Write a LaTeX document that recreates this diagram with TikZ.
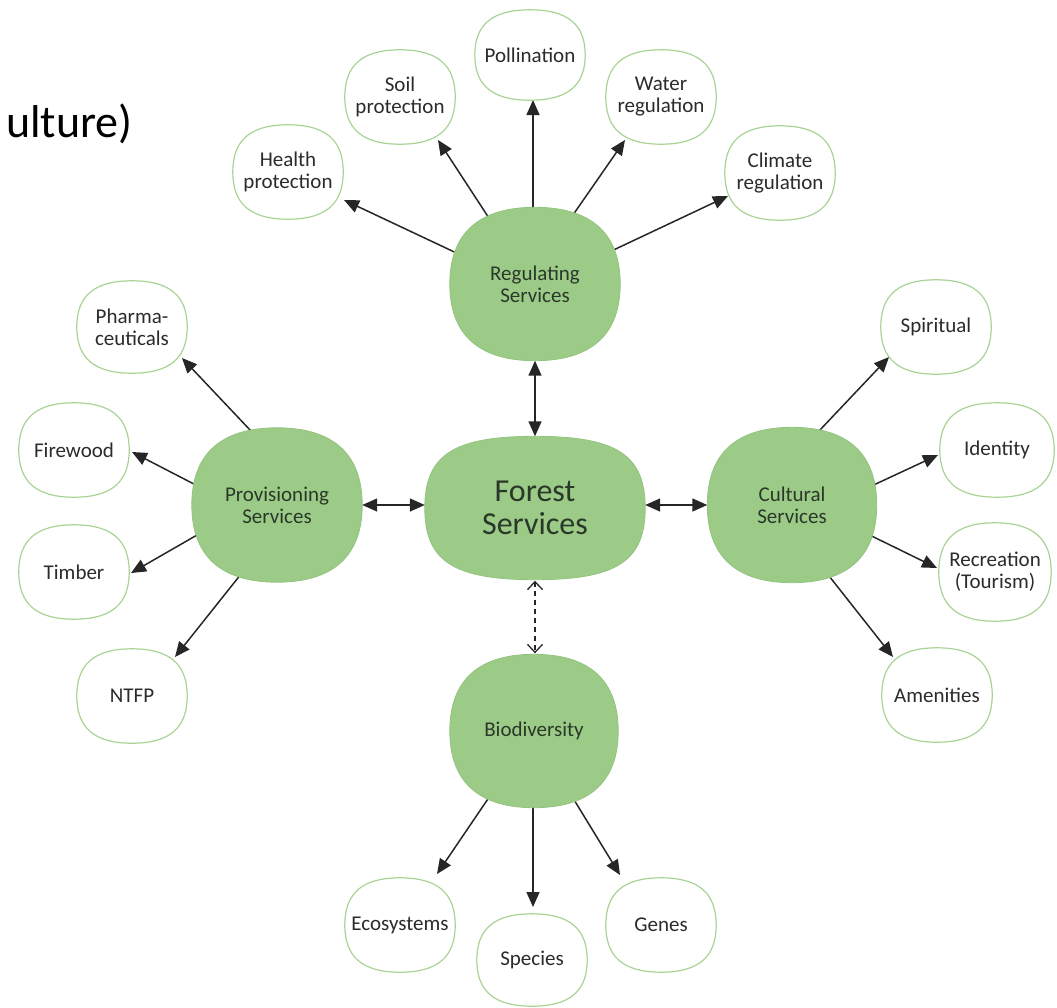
\documentclass[tikz,border=0pt]{standalone}
\usepackage{fontspec}
\setmainfont{Carlito}
\usetikzlibrary{arrows.meta,calc}
\pgfdeclarelayer{links}
\pgfdeclarelayer{shapes}
\pgfsetlayers{links,shapes,main}
\definecolor{leaf}{HTML}{9CCB88}
\definecolor{leafedge}{HTML}{93C47F}
\definecolor{leafline}{HTML}{A9D394}
\definecolor{labeltext}{HTML}{2B2B2B}
\definecolor{hubtext}{HTML}{2A382A}
\definecolor{linkcol}{HTML}{262626}
% squircle outline through the four side midpoints of a node
\newcommand{\roundblob}[3]{%
  \path[#3] (#1.north)
    .. controls ($(#1.north)!#2!(#1.north east)$) and ($(#1.east)!#2!(#1.north east)$) .. (#1.east)
    .. controls ($(#1.east)!#2!(#1.south east)$) and ($(#1.south)!#2!(#1.south east)$) .. (#1.south)
    .. controls ($(#1.south)!#2!(#1.south west)$) and ($(#1.west)!#2!(#1.south west)$) .. (#1.west)
    .. controls ($(#1.west)!#2!(#1.north west)$) and ($(#1.north)!#2!(#1.north west)$) .. (#1.north)
    -- cycle;}
\begin{document}
\begin{tikzpicture}[x=1pt, y=-1pt,
  hub/.style={align=center, text=hubtext, inner sep=0pt,
    font=\fontsize{21}{22}\selectfont},
  hubfill/.style={draw=leafedge, line width=0.8pt, fill=leaf},
  leafbox/.style={minimum width=110pt, minimum height=94pt, align=center,
    text=labeltext, inner sep=0pt, font=\fontsize{21}{22}\selectfont},
  leaffill/.style={draw=leafline, line width=1.2pt, fill=white},
  link/.style={draw=linkcol, line width=1.5pt, -{Triangle[length=15pt,width=13pt]}},
  twoway/.style={draw=linkcol, line width=1.5pt,
    {Triangle[length=15pt,width=13pt]}-{Triangle[length=15pt,width=13pt]}},
  maybe/.style={draw=linkcol, line width=1.3pt, dash pattern=on 5pt off 4pt,
    {Straight Barb[length=8pt,width=15pt]}-{Straight Barb[length=8pt,width=15pt]}}]

\useasboundingbox (0,0) rectangle (1057,1007);

% heading fragment
\node[anchor=base east, inner sep=0pt, text=black, font=\fontsize{46}{50}\selectfont]
  (heading) at (133,137) {ulture)};

% hubs
\node[hub, minimum width=220pt, minimum height=143pt,
  font=\fontsize{32}{33}\selectfont] (forest) at (535,508) {Forest\\Services};
\node[hub, minimum width=170pt, minimum height=153pt] (reg)  at (535,284) {Regulating\\Services};
\node[hub, minimum width=170pt, minimum height=154pt] (prov) at (277,505) {Provisioning\\Services};
\node[hub, minimum width=169pt, minimum height=155pt] (cult) at (792,505) {Cultural\\Services};
\node[hub, minimum width=168pt, minimum height=153pt] (bio)  at (534,731) {Biodiversity};

% regulating services
\node[leafbox] (health)  at (288,172) {Health\\protection};
\node[leafbox] (soil)    at (400,97)  {Soil\\protection};
\node[leafbox, minimum height=90pt] (poll) at (530,55) {Pollination};
\node[leafbox] (water)   at (661,97)  {Water\\regulation};
\node[leafbox] (climate) at (780,173) {Climate\\regulation};

% provisioning services
\node[leafbox, minimum height=92pt] (pharma) at (132,327) {Pharma-\\ceuticals};
\node[leafbox] (fire)    at (74,450)  {Firewood};
\node[leafbox] (timber)  at (74,572)  {Timber};
\node[leafbox] (ntfp)    at (132,696) {NTFP};

% cultural services
\node[leafbox] (spirit)  at (936,327) {Spiritual};
\node[leafbox, minimum width=114pt] (ident) at (997,450) {Identity};
\node[leafbox, minimum width=112pt, minimum height=98pt] (recre) at (995,572) {Recreation\\(Tourism)};
\node[leafbox] (amen)    at (937,695) {Amenities};

% biodiversity
\node[leafbox] (eco)     at (400,925) {Ecosystems};
\node[leafbox, minimum height=92pt] (species) at (532,960) {Species};
\node[leafbox] (genes)   at (661,925) {Genes};

% node outlines
\begin{pgfonlayer}{shapes}
  \roundblob{forest}{0.74}{hubfill}
  \foreach \h in {reg,prov,cult,bio} {\roundblob{\h}{0.66}{hubfill}}
  \foreach \w in {health,soil,poll,water,climate,pharma,fire,timber,ntfp,
                  spirit,ident,recre,amen,eco,species,genes}
    {\roundblob{\w}{0.68}{leaffill}}
\end{pgfonlayer}

\begin{pgfonlayer}{links}
  % regulating
  \draw[link] ([shift={(0,6)}]reg.center)   -- ([shift={(56,28)}]health.center);
  \draw[link] ([shift={(-3,0)}]reg.center)  -- ([shift={(38,43)}]soil.center);
  \draw[link] ([shift={(-2,0)}]reg.center)  -- ([shift={(3,45)}]poll.center);
  \draw[link] ([shift={(-10,0)}]reg.center) -- ([shift={(-36,43)}]water.center);
  \draw[link] ([shift={(0,3)}]reg.center)   -- ([shift={(-52,23)}]climate.center);
  % provisioning
  \draw[link] ([shift={(44,0)}]prov.center)  -- ([shift={(50,31)}]pharma.center);
  \draw[link] ([shift={(0,22)}]prov.center)  -- ([shift={(58,2)}]fire.center);
  \draw[link] ([shift={(0,-16)}]prov.center) -- ([shift={(57,1)}]timber.center);
  \draw[link] ([shift={(19,0)}]prov.center)  -- ([shift={(43,-39)}]ntfp.center);
  % cultural
  \draw[link] ([shift={(-43,0)}]cult.center) -- ([shift={(-47,30)}]spirit.center);
  \draw[link] ([shift={(0,18)}]cult.center)  -- ([shift={(-59,5)}]ident.center);
  \draw[link] ([shift={(0,-8)}]cult.center)  -- ([shift={(-58,-4)}]recre.center);
  \draw[link] ([shift={(-19,0)}]cult.center) -- ([shift={(-44,-38)}]amen.center);
  % biodiversity
  \draw[link] (bio.center) -- ([shift={(37,-51)}]eco.center);
  \draw[link] ([shift={(-1,0)}]bio.center) -- ([shift={(1,-53)}]species.center);
  \draw[link] ([shift={(-2,0)}]bio.center) -- ([shift={(-41,-50)}]genes.center);
\end{pgfonlayer}

% links to the central node
\draw[twoway] (reg.south) -- (forest.north);
\draw[twoway] (prov.east) -- (prov.east -| forest.west);
\draw[twoway] (cult.west -| forest.east) -- (cult.west);
\draw[maybe] ([shift={(0,1)}]forest.south) -- ([shift={(0,-1)}]forest.south |- bio.north);
\end{tikzpicture}
\end{document}
